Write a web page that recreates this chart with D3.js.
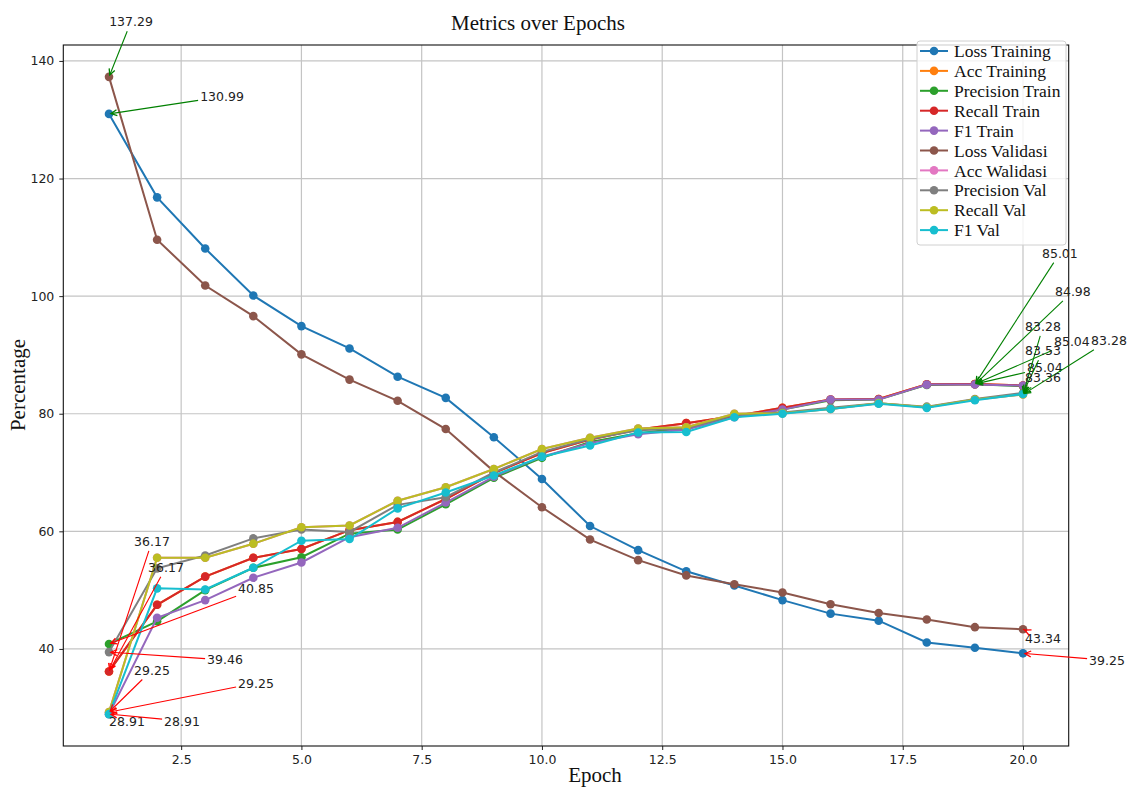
<!DOCTYPE html>
<html>
<head>
<meta charset="utf-8">
<script src="https://cdn.jsdelivr.net/npm/d3@7"></script>
<style>
body { margin: 0; background: #fff; }
</style>
</head>
<body>
<script>
var epochs = d3.range(1, 21);

var seriesNames = ["Loss Training", "Acc Training", "Precision Train", "Recall Train", "F1 Train",
    "Loss Validasi", "Acc Walidasi", "Precision Val", "Recall Val", "F1 Val"];

var lossTraining = [130.99, 116.8, 108.1, 100.1, 94.9, 91.1, 86.3, 82.7, 76.0, 68.9, 60.9, 56.8, 53.2, 50.8, 48.3, 46.0, 44.8, 41.1, 40.2, 39.25];
var accTraining = [36.17, 47.5, 52.3, 55.5, 57.0, 60.2, 61.6, 65.5, 69.9, 73.3, 75.6, 77.3, 78.4, 79.6, 81.0, 82.4, 82.5, 85.0, 85.04, 84.8];
var precisionTrain = [40.85, 44.7, 50.0, 53.8, 55.6, 59.6, 60.3, 64.6, 69.1, 72.5, 75.2, 76.7, 77.6, 79.5, 80.7, 82.3, 82.4, 84.9, 85.01, 84.7];
var recallTrain = [36.17, 47.5, 52.3, 55.5, 57.0, 60.2, 61.6, 65.5, 69.9, 73.3, 75.6, 77.3, 78.4, 79.6, 81.0, 82.4, 82.5, 85.0, 85.04, 84.8];
var f1Train = [28.91, 45.3, 48.3, 52.1, 54.7, 59.0, 60.6, 64.9, 69.3, 72.7, 75.0, 76.5, 77.3, 79.4, 80.7, 82.4, 82.4, 84.95, 84.98, 84.8];
var lossValidasi = [137.29, 109.6, 101.8, 96.6, 90.1, 85.8, 82.2, 77.4, 70.2, 64.1, 58.6, 55.1, 52.5, 51.0, 49.6, 47.6, 46.1, 45.0, 43.7, 43.34];
var accWalidasi = [29.25, 55.5, 55.5, 57.9, 60.7, 61.0, 65.2, 67.5, 70.6, 74.0, 75.9, 77.5, 77.7, 80.0, 80.1, 80.8, 81.8, 81.1, 82.4, 83.28];
var precisionVal = [39.46, 53.7, 55.9, 58.8, 60.3, 59.9, 64.5, 65.8, 70.0, 73.5, 75.7, 77.2, 77.5, 79.8, 80.2, 81.0, 81.8, 81.2, 82.5, 83.53];
var recallVal = [29.25, 55.5, 55.5, 57.9, 60.7, 61.0, 65.2, 67.5, 70.6, 74.0, 75.9, 77.5, 77.7, 80.0, 80.1, 80.8, 81.8, 81.1, 82.4, 83.28];
var f1Val = [28.91, 50.3, 50.1, 53.8, 58.4, 58.7, 63.9, 66.6, 69.5, 72.7, 74.6, 76.8, 76.9, 79.4, 80.0, 80.8, 81.7, 81.0, 82.3, 83.36];

var xTicks = [2.5, 5.0, 7.5, 10.0, 12.5, 15.0, 17.5, 20.0];
var yTicks = [40, 60, 80, 100, 120, 140];

var allSeries = [lossTraining, accTraining, precisionTrain, recallTrain, f1Train,
    lossValidasi, accWalidasi, precisionVal, recallVal, f1Val];

var colors = ["#1f77b4", "#ff7f0e", "#2ca02c", "#d62728", "#9467bd",
    "#8c564b", "#e377c2", "#7f7f7f", "#bcbd22", "#17becf"];

// where each label sits, in pixels from the point it annotates
var maxOffsets = [[113, -17], [70, -16], [85, -131], [97, -42], [98, -93],
    [22, -55], [20, -68], [20, -42], [86, -54], [20, -16]];
var minOffsets = [[84, 7], [43, -130], [147, -55], [57, -104], [18, 7],
    [20, 9], [43, -42], [116, 8], [147, -29], [73, 7]];

var svgWidth = 1132;
var svgHeight = 793;
var margin = {
    top: 45,
    right: 63.3,
    bottom: 47,
    left: 63.3
};

var svg = d3.select("body")
        .append("svg")
        .attr("width", svgWidth)
        .attr("height", svgHeight)
        .style("font-family", "'DejaVu Sans', sans-serif");

var xScale = d3.scaleLinear()
        .domain([0.05, 20.95])
        .range([margin.left, svgWidth - margin.right]);

var yScale = d3.scaleLinear()
        .domain([23.49, 142.71])
        .range([svgHeight - margin.bottom, margin.top]);

// grid
svg.append("g").selectAll("line")
        .data(xTicks)
        .enter().append("line")
        .attr("x1", function (d) { return xScale(d); })
        .attr("x2", function (d) { return xScale(d); })
        .attr("y1", margin.top)
        .attr("y2", svgHeight - margin.bottom)
        .attr("stroke", "#c4c4c4")
        .attr("stroke-width", 1.2);

svg.append("g").selectAll("line")
        .data(yTicks)
        .enter().append("line")
        .attr("y1", function (d) { return yScale(d); })
        .attr("y2", function (d) { return yScale(d); })
        .attr("x1", margin.left)
        .attr("x2", svgWidth - margin.right)
        .attr("stroke", "#c4c4c4")
        .attr("stroke-width", 1.2);

var xAxis = d3.axisBottom(xScale)
        .tickValues(xTicks)
        .tickFormat(d3.format(".1f"))
        .tickSize(4)
        .tickPadding(5);

var yAxis = d3.axisLeft(yScale)
        .tickValues(yTicks)
        .tickSize(4)
        .tickPadding(5);

var gx = svg.append("g")
        .attr("transform", "translate(0," + (svgHeight - margin.bottom) + ")")
        .call(xAxis);
var gy = svg.append("g")
        .attr("transform", "translate(" + margin.left + ",0)")
        .call(yAxis);

[gx, gy].forEach(function (g) {
    g.select(".domain").remove();
    g.selectAll("text")
            .attr("font-family", "'DejaVu Sans', sans-serif")
            .attr("font-size", 12.5)
            .attr("fill", "#222");
    g.selectAll("line").attr("stroke", "#222");
});

// lines and markers
var lineFunc = d3.line()
        .x(function (d, i) { return xScale(epochs[i]); })
        .y(function (d) { return yScale(d); });

allSeries.forEach(function (values, s) {
    svg.append("path")
            .attr("d", lineFunc(values))
            .attr("stroke", colors[s])
            .attr("stroke-width", 2)
            .attr("fill", "none");
    svg.append("g").selectAll("circle")
            .data(values)
            .enter().append("circle")
            .attr("cx", function (d, i) { return xScale(epochs[i]); })
            .attr("cy", function (d) { return yScale(d); })
            .attr("r", 4.3)
            .attr("fill", colors[s]);
});

// frame
svg.append("rect")
        .attr("x", margin.left)
        .attr("y", margin.top)
        .attr("width", svgWidth - margin.left - margin.right)
        .attr("height", svgHeight - margin.top - margin.bottom)
        .attr("fill", "none")
        .attr("stroke", "#111")
        .attr("stroke-width", 1.1);

// max / min annotations
var annoLayer = svg.append("g");

function annotate(value, idx, offset, color) {
    var px = xScale(epochs[idx]);
    var py = yScale(value);
    var t = annoLayer.append("text")
            .attr("x", px + offset[0])
            .attr("y", py + offset[1])
            .attr("text-anchor", "middle")
            .attr("dy", "0.35em")
            .attr("font-size", 12.5)
            .attr("fill", "#222")
            .text(value.toFixed(2));
    var bb = t.node().getBBox();
    var cx = bb.x + bb.width / 2, cy = bb.y + bb.height / 2;
    var dx = px - cx, dy = py - cy;
    var sx = dx === 0 ? Infinity : (bb.width / 2 + 2) / Math.abs(dx);
    var sy = dy === 0 ? Infinity : (bb.height / 2 + 2) / Math.abs(dy);
    var s = Math.min(sx, sy);
    if (s >= 1) return;
    var x0 = cx + dx * s, y0 = cy + dy * s;
    var len = Math.sqrt((px - x0) * (px - x0) + (py - y0) * (py - y0));
    var ux = (px - x0) / len, uy = (py - y0) / len;
    var tx = px - ux * 2, ty = py - uy * 2;
    annoLayer.append("line")
            .attr("x1", x0).attr("y1", y0)
            .attr("x2", tx).attr("y2", ty)
            .attr("stroke", color)
            .attr("stroke-width", 1.1);
    var hl = 6, hw = 3;
    annoLayer.append("path")
            .attr("d", "M" + (tx - ux * hl - uy * hw) + "," + (ty - uy * hl + ux * hw) +
                    "L" + tx + "," + ty +
                    "L" + (tx - ux * hl + uy * hw) + "," + (ty - uy * hl - ux * hw))
            .attr("stroke", color)
            .attr("stroke-width", 1.3)
            .attr("fill", "none");
}

allSeries.forEach(function (values, s) {
    var iMax = d3.maxIndex(values);
    var iMin = d3.minIndex(values);
    annotate(values[iMax], iMax, maxOffsets[s], "green");
    annotate(values[iMin], iMin, minOffsets[s], "red");
});

// titles
svg.append("text")
        .attr("x", 538)
        .attr("y", 30)
        .attr("text-anchor", "middle")
        .attr("font-family", "'Liberation Serif', serif")
        .attr("font-size", 21)
        .attr("fill", "#111")
        .text("Metrics over Epochs");

svg.append("text")
        .attr("x", 595)
        .attr("y", 782)
        .attr("text-anchor", "middle")
        .attr("font-family", "'Liberation Serif', serif")
        .attr("font-size", 21)
        .attr("fill", "#111")
        .text("Epoch");

svg.append("text")
        .attr("transform", "translate(18,385) rotate(-90)")
        .attr("text-anchor", "middle")
        .attr("dy", "0.35em")
        .attr("font-family", "'Liberation Serif', serif")
        .attr("font-size", 21)
        .attr("fill", "#111")
        .text("Percentage");

// legend
var legend = svg.append("g");
legend.append("rect")
        .attr("x", 917)
        .attr("y", 41)
        .attr("width", 149)
        .attr("height", 204)
        .attr("rx", 3)
        .attr("fill", "#fff")
        .attr("fill-opacity", 0.8)
        .attr("stroke", "#d0d0d0");

var rows = legend.selectAll("g.row")
        .data(seriesNames)
        .enter().append("g")
        .attr("transform", function (d, i) { return "translate(0," + (51 + i * 19.9) + ")"; });

rows.append("line")
        .attr("x1", 920).attr("x2", 948)
        .attr("stroke", function (d, i) { return colors[i]; })
        .attr("stroke-width", 2);
rows.append("circle")
        .attr("cx", 934)
        .attr("r", 4.3)
        .attr("fill", function (d, i) { return colors[i]; });
rows.append("text")
        .attr("x", 954)
        .attr("dy", "0.35em")
        .attr("font-family", "'Liberation Serif', serif")
        .attr("font-size", 17.5)
        .attr("fill", "#111")
        .text(function (d) { return d; });
</script>
</body>
</html>
